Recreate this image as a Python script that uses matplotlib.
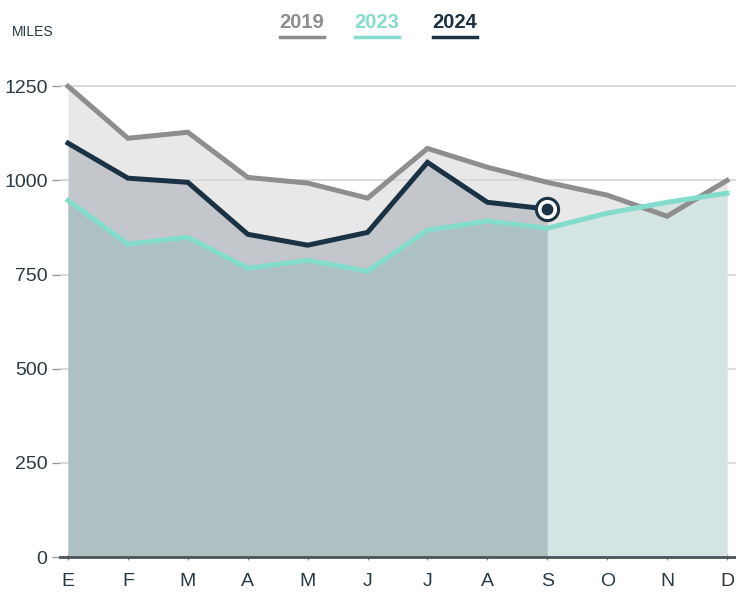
import matplotlib
matplotlib.use("Agg")
import matplotlib.pyplot as plt
import numpy as np

plt.rcParams['font.family'] = ['Liberation Sans', 'DejaVu Sans']

months = ["E", "F", "M", "A", "M", "J", "J", "A", "S", "O", "N", "D"]
y2019 = [1250, 1112, 1128, 1008, 993, 953, 1085, 1035, 995, 961, 905, 1000]
y2023 = [947, 831, 849, 767, 788, 759, 868, 892, 873, 913, 942, 966]
y2024 = [1099, 1006, 995, 857, 828, 862, 1048, 942, 924]
yticks = [0, 250, 500, 750, 1000, 1250]

c2019 = "#8e8e8e"
c2023 = "#84dccd"
c2024 = "#1b3244"

fig = plt.figure(figsize=(7.36, 5.92), dpi=100)
ax = fig.add_axes([60/736, 35/592, 676/736, 482/592])

x = np.arange(len(months))
x24 = np.arange(len(y2024))
s = len(y2024) - 1

ax.fill_between(x, 0, y2019, color="#e8e8e8", lw=0, zorder=1)
ax.fill_between(x24, 0, y2024, color="#c3c7cb", lw=0, zorder=2)
ax.fill_between(x[:s+1], 0, y2023[:s+1], color="#adc0c2", lw=0, zorder=3)
ax.fill_between(x[s:], 0, y2023[s:], color="#d4e4e3", lw=0, zorder=3)

for yv in yticks[1:]:
    ax.axhline(yv, color="#d8d8d8", lw=1.3, zorder=1.5)

ax.plot(x, y2019, color=c2019, lw=3.6, zorder=5, solid_joinstyle='miter')
ax.plot(x, y2023, color=c2023, lw=3.6, zorder=5, solid_joinstyle='miter')
ax.plot(x24, y2024, color=c2024, lw=3.6, zorder=6, solid_joinstyle='miter')
ax.plot([x24[-1]], [y2024[-1]], marker='o', ms=16, mfc='white', mec=c2024, mew=2.2, zorder=7)
ax.plot([x24[-1]], [y2024[-1]], marker='o', ms=7.5, mfc=c2024, mec=c2024, zorder=8)

ax.set_xlim(-0.134, 11.15)
ax.set_ylim(0, 1280)
ax.set_xticks(x)
ax.set_xticklabels(months)
ax.set_yticks(yticks)
ax.set_yticklabels([str(v) for v in yticks])

for sp in ["top", "right", "left"]:
    ax.spines[sp].set_visible(False)
ax.spines["bottom"].set_color("#4a5458")
ax.spines["bottom"].set_linewidth(2)
ax.spines["bottom"].set_zorder(9)
ax.tick_params(axis='x', length=5, width=1, color="#888888", direction='inout', labelsize=14, labelcolor="#2a3a44", pad=9)
ax.tick_params(axis='y', length=6, width=1, color="#999999", labelsize=14, labelcolor="#2a3a44", pad=3)

fig.text(12/736, 1 - 32/592, "MILES", fontsize=10, color="#2a3a44", va='center', ha='left')

legend = [("2019", c2019, 302), ("2023", c2023, 377), ("2024", c2024, 455)]
for lab, col, cx in legend:
    fig.text(cx/736, 1 - 22/592, lab, fontsize=14.5, color=col, ha='center', va='center', fontweight='bold')
    fig.add_artist(plt.Line2D([(cx-22)/736, (cx+22)/736], [1 - 37/592, 1 - 37/592], color=col, lw=2.5))

fig.savefig("out.png", dpi=100)
